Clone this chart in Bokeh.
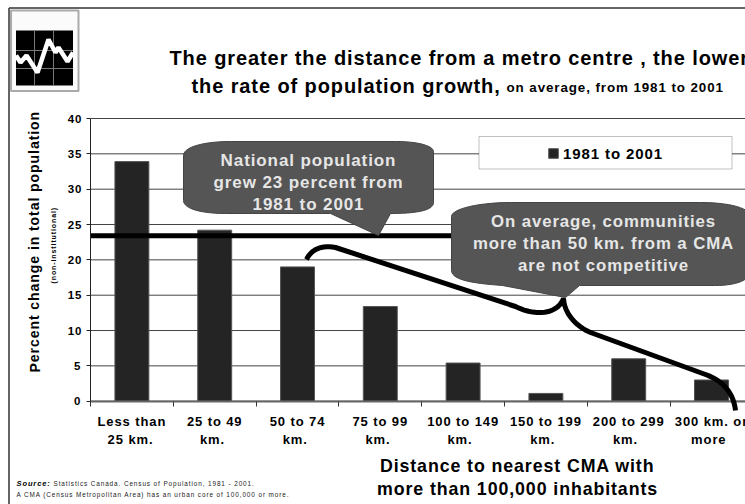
from bokeh.plotting import figure
from bokeh.embed import file_html
from bokeh.resources import INLINE
from bokeh.models import (ColumnDataSource, Range1d, FixedTicker, Label, PolyAnnotation, BoxAnnotation,
                          Legend, LegendItem)

categories = ["Less than\n25 km.", "25 to 49\nkm.", "50 to 74\nkm.", "75 to 99\nkm.",
              "100 to 149\nkm.", "150 to 199\nkm.", "200 to 299\nkm.", "300 km. or\nmore"]
growth = [33.9, 24.2, 19.0, 13.4, 5.4, 1.1, 6.0, 3.0]
national = 23.4
y_ticks = [0, 5, 10, 15, 20, 25, 30, 35, 40]
series_name = "1981 to 2001"

FONT = "Liberation Sans"
SP = 0.9
W, H = 745, 504
CAT = 82.8
LEFT, ZERO, TOP = 90, 400.7, 118
UNIT = (ZERO - TOP) / 40
XMAX = (W - LEFT) / CAT


def bez(p0, p1, p2, p3, n=14):
    out = []
    for i in range(n + 1):
        t = i / n
        a, b, c, d = (1 - t) ** 3, 3 * t * (1 - t) ** 2, 3 * t * t * (1 - t), t ** 3
        out.append((a * p0[0] + b * p1[0] + c * p2[0] + d * p3[0],
                    a * p0[1] + b * p1[1] + c * p2[1] + d * p3[1]))
    return out


def poly(p, pts, fill=None, line=None, lw=1):
    p.add_layout(PolyAnnotation(xs=[a for a, _ in pts], ys=[b for _, b in pts],
                                xs_units="canvas", ys_units="canvas", level="overlay",
                                fill_color=fill, fill_alpha=1 if fill else 0,
                                line_color=line, line_width=lw, line_alpha=1 if line else 0))


def text(p, s, x, y, size, color="#000000", align="left", angle=0, style="bold", font=FONT):
    if align == "center":
        x = x - len(s) * SP / 2
    p.add_layout(Label(x=x, y=y, x_units="canvas", y_units="canvas", text=s, level="overlay",
                       text_font=font, text_font_size=f"{size}px",
                       text_font_style=style, text_color=color,
                       text_align=align, text_baseline="alphabetic", angle=angle))


p = figure(width=W, height=H, output_backend="svg", toolbar_location=None,
           x_range=Range1d(-LEFT / CAT, XMAX), y_range=Range1d(-(H - ZERO) / UNIT, 40 + TOP / UNIT),
           min_border_left=0, min_border_right=0, min_border_top=0, min_border_bottom=0,
           outline_line_color=None, background_fill_color="white", border_fill_color="white")
p.styles = {"letter-spacing": f"{SP}px"}

# grid is drawn only over the plot area, since the frame spans the whole slide
p.xgrid.visible = False
p.ygrid.visible = False
p.segment(x0=[0] * len(y_ticks), x1=[XMAX] * len(y_ticks), y0=y_ticks, y1=y_ticks,
          line_color="#444444", line_width=1)

src = ColumnDataSource(dict(x=[i + 0.5 for i in range(len(growth))], top=growth))
bars = p.vbar(x="x", top="top", width=0.41, bottom=0, source=src,
              fill_color="#242424", line_color="#555555", line_width=1)
p.line([0, XMAX], [national, national], line_color="#000000", line_width=5)

# labels are measured without letter-spacing, so their tick positions are nudged to stay centred
nudge = [max(len(s) for s in c.split("\n")) * SP / 2 / CAT for c in categories]
lab_pos = [i + 0.5 - nudge[i] for i in range(8)]
ax = p.xaxis[0]
ax.fixed_location = 0
ax.bounds = (0, XMAX)
ax.ticker = FixedTicker(ticks=lab_pos, minor_ticks=list(range(9)))
ax.major_label_overrides = {lab_pos[i]: c for i, c in enumerate(categories)}
ax.major_tick_in = 0
ax.major_tick_out = 0
ax.minor_tick_in = 0
ax.minor_tick_out = 5
ax.minor_tick_line_color = "#333333"
ax.axis_line_color = "#666666"
ax.axis_line_width = 2
ax.major_label_text_font = FONT
ax.major_label_text_font_style = "bold"
ax.major_label_text_font_size = "13px"
ax.major_label_text_color = "#000000"
ax.major_label_standoff = 8

ay = p.yaxis[0]
ay.fixed_location = 0
ay.bounds = (0, 40)
ay.ticker = FixedTicker(ticks=y_ticks)
ay.major_tick_in = 0
ay.major_tick_out = 4
ay.minor_tick_out = 0
ay.minor_tick_in = 0
ay.axis_line_color = "#222222"
ay.major_tick_line_color = "#222222"
ay.major_label_text_font = FONT
ay.major_label_text_font_style = "bold"
ay.major_label_text_font_size = "11.5px"
ay.major_label_text_color = "#000000"
ay.major_label_standoff = 6

# frame of the slide
poly(p, [(8.5, 7.5), (745, 7.5), (8.5, 7.5), (8.5, 504)], line="#333333", lw=1)

# logo
poly(p, [(10.5, 10), (78, 10), (78, 90.5), (10.5, 90.5)], fill="#fbfbfb", line="#aaaaaa", lw=2)
poly(p, [(15.5, 30), (72.5, 30), (72.5, 85), (15.5, 85)], fill="#000000")
for gx in (34, 53):
    poly(p, [(gx, 30), (gx, 85)], line="#777777", lw=1)
for gy in (50, 68):
    poly(p, [(15.5, gy), (72.5, gy)], line="#777777", lw=1)
zig = [(15.5, 55), (20, 62), (26, 55), (37, 72), (48, 39), (55, 52), (58, 47), (67, 61), (72.5, 52)]
poly(p, zig + zig[::-1], line="#ffffff", lw=4.5)

# titles
text(p, "The greater the distance from a metro centre , the lower", 169, 57, 20)
text(p, "the rate of population growth,", 191, 85, 20)
text(p, "on average, from 1981 to 2001", 506, 86.5, 13.4)

# y title
text(p, "Percent change in total population", 34, 372, 14.1, angle=1.5708)
text(p, "(non-institutional)", 53, 283, 7, angle=1.5708)

# legend box
p.add_layout(BoxAnnotation(left=478.5, right=731.5, top=136, bottom=168.5, level="overlay",
                           left_units="canvas", right_units="canvas", top_units="canvas", bottom_units="canvas",
                           fill_color="white", fill_alpha=1, line_color="#333333", line_width=1))
legend = Legend(items=[LegendItem(label=series_name, renderers=[bars])], location=(547, H - 161.5),
                border_line_color=None, background_fill_alpha=0, padding=0, margin=0, level="overlay",
                glyph_width=12, glyph_height=12, label_standoff=4, label_height=12,
                label_text_font=FONT, label_text_font_style="bold", label_text_font_size="15px",
                label_text_color="#000000", label_text_baseline="middle")
p.add_layout(legend, "center")

# callout 1
c1 = (bez((183, 155), (183, 146), (205, 141), (230, 141)) + [(395, 141)] +
      bez((395, 141), (420, 141), (433, 146), (433, 151)) + [(433, 202)] +
      bez((433, 202), (433, 209), (420, 213), (390, 213)) + [(378, 235), (330, 213), (225, 213)] +
      bez((225, 213), (200, 213), (183, 208), (183, 200)))
poly(p, c1, fill="#555555", line="#444444")
text(p, "National population", 308, 160, 17, color="#e6e6e6", align="center")
text(p, "grew 23 percent from", 308, 182, 17, color="#e6e6e6", align="center")
text(p, "1981 to 2001", 308, 204, 17, color="#e6e6e6", align="center")

# callout 2
c2 = (bez((451, 216), (451, 208), (480, 202), (510, 202)) + [(700, 202)] +
      bez((700, 202), (730, 202), (750, 208), (750, 216)) + [(750, 270)] +
      bez((750, 270), (750, 280), (735, 285), (715, 285)) + [(579, 285), (565, 297), (502, 285)] +
      bez((502, 285), (475, 283), (451, 280), (451, 270)))
poly(p, c2, fill="#555555", line="#444444")
text(p, "On average, communities", 603, 221, 16.8, color="#e6e6e6", align="center")
text(p, "more than 50 km. from a CMA", 603, 243, 16.8, color="#e6e6e6", align="center")
text(p, "are not competitive", 603, 265, 16.8, color="#e6e6e6", align="center")

# brace
br = (bez((306, 259), (310, 250), (320, 244), (335, 247)) + [(515, 306)] +
      bez((515, 306), (535, 316), (557, 314), (563, 298)) +
      bez((563, 298), (564, 315), (578, 327), (590, 332)) + [(705, 374)] +
      bez((705, 374), (722, 380), (733, 392), (735, 410)))
poly(p, br + br[::-1], line="#000000", lw=5)

# x title
text(p, "Distance to nearest CMA with", 517, 465, 17.8, align="center")
text(p, "more than 100,000 inhabitants", 517, 488, 17.8, align="center")

# source
text(p, "Source:", 16, 483, 7.5, style="bold italic")
text(p, "Statistics Canada. Census of Population, 1981 - 2001.", 53, 483, 6.4, color="#222222", style="normal")
text(p, "A CMA (Census Metropolitan Area) has an urban core of 100,000 or more.", 16, 494, 6.4, color="#222222", style="normal")

open("out.html", "w").write(file_html(p, INLINE))
